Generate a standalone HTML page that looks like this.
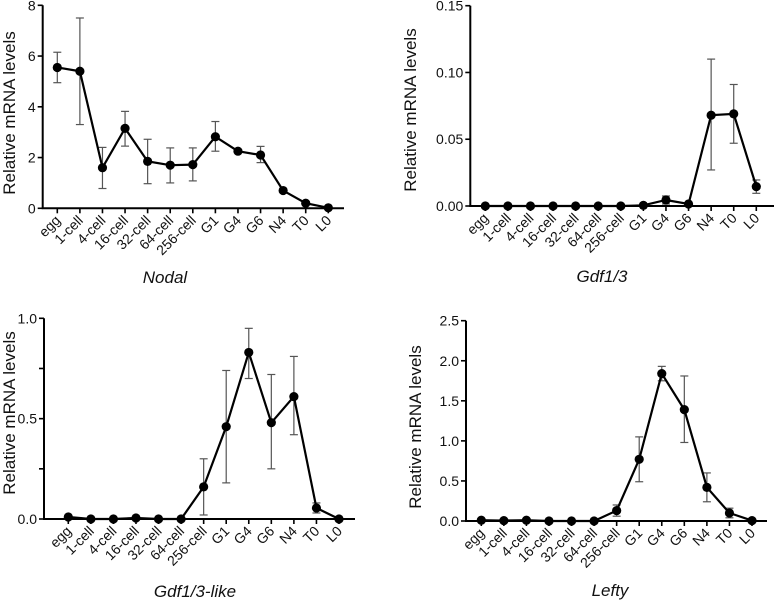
<!DOCTYPE html>
<html><head><meta charset="utf-8"><style>
html,body{margin:0;padding:0;background:#fff;}
svg{display:block;font-family:"Liberation Sans",Arial,sans-serif;}
</style></head><body>
<svg id="fig" width="774" height="600" viewBox="0 0 774 600"></svg>
<script>
const categories=["egg","1-cell","4-cell","16-cell","32-cell","64-cell","256-cell","G1","G4","G6","N4","T0","L0"];
const nodalValues=[5.55,5.4,1.6,3.15,1.85,1.7,1.72,2.82,2.25,2.1,0.7,0.2,0.02];
const nodalLow=[4.95,3.3,0.78,2.45,0.97,1.0,1.08,2.25,2.2,1.8,0.65,0.15,0.0];
const nodalHigh=[6.15,7.5,2.4,3.82,2.72,2.38,2.38,3.42,2.3,2.44,0.75,0.25,0.04];
const gdfValues=[0,0,0,0,0,0,0,0.0005,0.0045,0.0015,0.068,0.069,0.0145];
const gdfLow=[0,0,0,0,0,0,0,0,0.0015,0,0.027,0.047,0.0095];
const gdfHigh=[0,0,0,0,0,0,0,0.001,0.0075,0.002,0.11,0.091,0.0195];
const gdfLikeValues=[0.01,0,0,0.005,0,0,0.16,0.46,0.83,0.48,0.61,0.055,0];
const gdfLikeLow=[0,0,0,0,0,0,0.02,0.18,0.7,0.25,0.42,0.03,0];
const gdfLikeHigh=[0.015,0,0,0.01,0,0,0.3,0.74,0.95,0.72,0.81,0.08,0];
const leftyValues=[0.01,0.005,0.01,0,0,0,0.13,0.77,1.84,1.39,0.42,0.1,0.005];
const leftyLow=[0,0,0,0,0,0,0.06,0.49,1.75,0.98,0.24,0.04,0];
const leftyHigh=[0.02,0.01,0.02,0,0,0,0.2,1.05,1.93,1.81,0.6,0.16,0.01];
const nodalTicks=["0","2","4","6","8"];
const gdfTicks=["0.00","0.05","0.10","0.15"];
const gdfLikeTicks=["0.0","","0.5","","1.0"];
const leftyTicks=["0.0","0.5","1.0","1.5","2.0","2.5"];

const NS="http://www.w3.org/2000/svg";
const svg=document.getElementById('fig');
function mk(tag,attrs,parent,text){const e=document.createElementNS(NS,tag);for(const k in attrs)e.setAttribute(k,attrs[k]);if(text!==undefined)e.textContent=text;(parent||svg).appendChild(e);return e;}

function panel(p){
  const g=mk('g',{});
  
  
  const yS=v=>p.y0+(v-0)/(p.ymax)*(p.yTop-p.y0);
  const xS=i=>p.xFirst+i*(p.xLast-p.xFirst)/(categories.length-1);
  const ya=mk('line',{x1:p.ax,y1:p.yTop,x2:p.ax,y2:p.y0,stroke:'#000','stroke-width':2},g);
  
  const xa=mk('line',{x1:p.ax-1,y1:p.y0,x2:p.axEnd,y2:p.y0,stroke:'#000','stroke-width':2},g);
  
  const n=p.ticks.length;
  p.ticks.forEach((t,i)=>{
    const v=p.ymax*i/(n-1);const y=yS(v);
    mk('line',{x1:p.ax-5,y1:y,x2:p.ax,y2:y,stroke:'#000','stroke-width':1.6},g);
    if(t){const tl=mk('text',{x:p.ax-7,y:y+5,'text-anchor':'end','font-size':14,fill:'#111'},g,t);
      }
  });
  categories.forEach((c,i)=>{
    const x=xS(i);
    mk('line',{x1:x,y1:p.y0,x2:x,y2:p.y0+5,stroke:'#000','stroke-width':1.6},g);
    const tl=mk('text',{x:x+4,y:p.y0+13,'text-anchor':'end','font-size':14,fill:'#111',transform:`rotate(-45 ${x+4} ${p.y0+13})`},g,c);
    
  });
  categories.forEach((c,i)=>{
    if(p.hi[i]-p.lo[i]<=0) return;
    const x=xS(i);const eg=mk('g',{stroke:'#555','stroke-width':1.2},g);
    
    mk('line',{x1:x,y1:yS(p.lo[i]),x2:x,y2:yS(p.hi[i])},eg);
    mk('line',{x1:x-4,y1:yS(p.lo[i]),x2:x+4,y2:yS(p.lo[i])},eg);
    mk('line',{x1:x-4,y1:yS(p.hi[i]),x2:x+4,y2:yS(p.hi[i])},eg);
  });
  const pts=p.vals.map((v,i)=>xS(i)+','+yS(v)).join(' ');
  const ln=mk('polyline',{points:pts,fill:'none',stroke:'#000','stroke-width':2.2},g);
  
  p.vals.forEach((v,i)=>{
    const pt=mk('circle',{cx:xS(i),cy:yS(v),r:4.6,fill:'#000'},g);
    
  });
  const yt=mk('text',{x:p.ytX,y:p.ytY,'text-anchor':'middle','font-size':17,fill:'#111',transform:`rotate(-90 ${p.ytX} ${p.ytY})`},g,'Relative mRNA levels');
  
  const tt=mk('text',{x:p.tX,y:p.tY,'text-anchor':'middle','font-size':17,'font-style':'italic',fill:'#111'},g,p.title);
  
}
panel({name:'nodal-panel',title:'Nodal',ax:42.7,axEnd:344,yTop:5.3,y0:208.3,ymax:8,xFirst:57.3,xLast:328.3,ticks:nodalTicks,vals:nodalValues,lo:nodalLow,hi:nodalHigh,ytX:15,ytY:113,tX:165,tY:283});
panel({name:'gdf13-panel',title:'Gdf1/3',ax:470.3,axEnd:774,yTop:5.7,y0:206,ymax:0.15,xFirst:485.3,xLast:756.3,ticks:gdfTicks,vals:gdfValues,lo:gdfLow,hi:gdfHigh,ytX:416,ytY:110,tX:602,tY:282});
panel({name:'gdf13-like-panel',title:'Gdf1/3-like',ax:44,axEnd:355,yTop:318.3,y0:519,ymax:1,xFirst:68.3,xLast:339,ticks:gdfLikeTicks,vals:gdfLikeValues,lo:gdfLikeLow,hi:gdfLikeHigh,ytX:15,ytY:413,tX:195,tY:597});
panel({name:'lefty-panel',title:'Lefty',ax:466,axEnd:767,yTop:320.7,y0:521,ymax:2.5,xFirst:481.3,xLast:752,ticks:leftyTicks,vals:leftyValues,lo:leftyLow,hi:leftyHigh,ytX:421,ytY:427,tX:610,tY:596});
</script>
</body></html>
